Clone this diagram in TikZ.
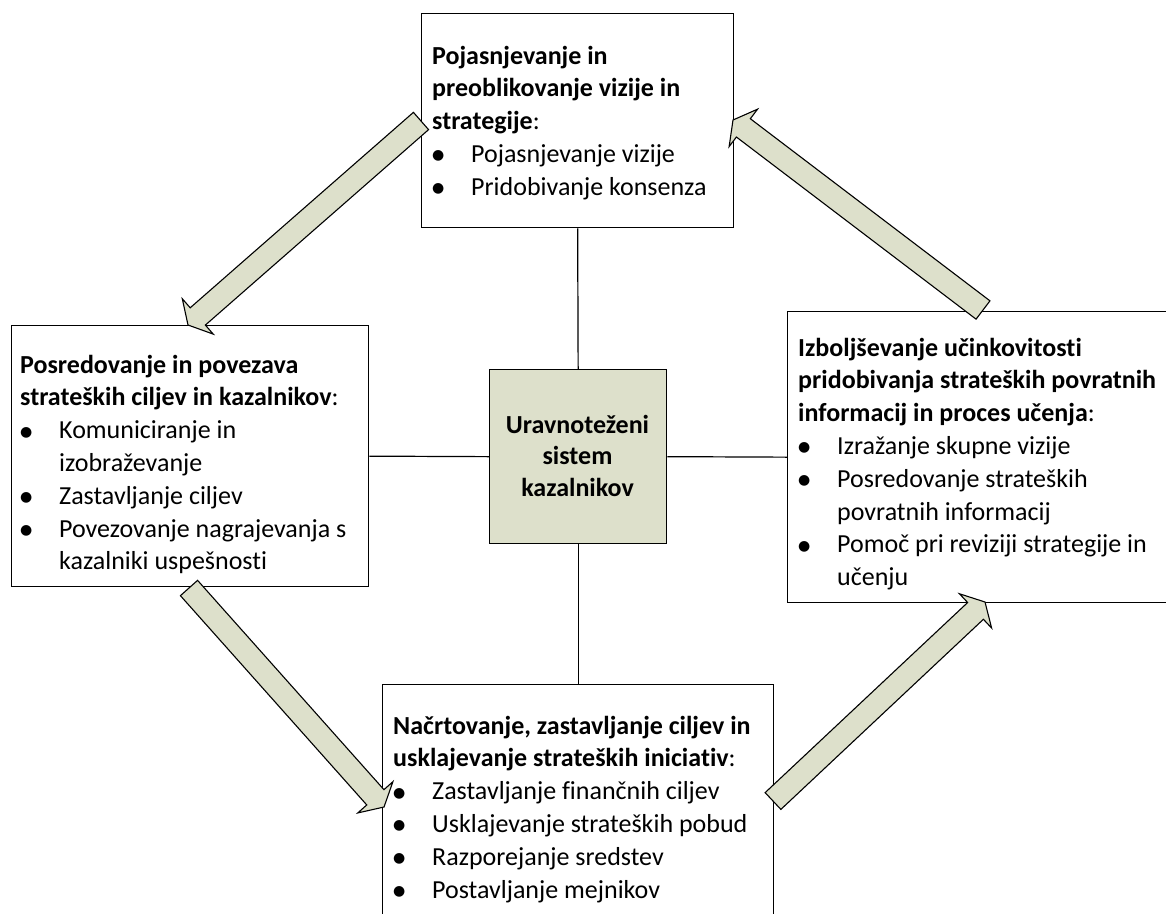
\documentclass[tikz,border=0pt]{standalone}
\usepackage{fontspec}
\setmainfont{Carlito}[Ligatures={NoCommon}]
\newfontfamily\symfont{DejaVu Sans}
\usetikzlibrary{calc}

\definecolor{sage}{HTML}{DDE0CB}

\newcommand\bulletmark{\raisebox{2.5pt}{\fontsize{14}{14}\symfont ●}}
\newcommand\itm[1]{\makebox[39pt][l]{\bulletmark}#1}
\newcommand\cont[1]{\hspace*{39pt}#1}
\newcommand\boxtext[1]{\parbox[t]{420pt}{\fontsize{26}{32.8}\selectfont\raggedright #1}}

% block arrow from tail (#1) to tip (#2)
\newcommand\blockarrow[2]{%
  \coordinate (hb) at ($(#2)!13pt!(#1)$);
  \filldraw[flowarrow]
    ($(#1)!11.5pt!90:(#2)$) -- ($(hb)!11.5pt!90:(#2)$) --
    ($(hb)!23.5pt!90:(#2)$) -- (#2) --
    ($(hb)!23.5pt!-90:(#2)$) -- ($(hb)!11.5pt!-90:(#2)$) --
    ($(#1)!11.5pt!-90:(#2)$) -- cycle;
}

\begin{document}
\begin{tikzpicture}[x=1pt,y=-1pt,
  panel/.style={draw=black, line width=1.3pt, fill=white, inner sep=0pt, anchor=north west},
  hub/.style={panel, fill=sage},
  label/.style={inner sep=0pt, anchor=base west},
  link/.style={draw=black, line width=1.2pt},
  flowarrow/.style={draw=black, line width=1.1pt, fill=sage, line join=miter}]
\useasboundingbox (0,0) rectangle (1166,913);
\clip (0,0) rectangle (1166,913);

% panels
\node[panel, minimum width=312pt, minimum height=214pt] (top) at (421,13) {};
\node[panel, minimum width=357pt, minimum height=261pt] (left) at (11,325) {};
\node[panel, minimum width=393pt, minimum height=291pt] (right) at (787,311) {};
\node[panel, minimum width=391pt, minimum height=246pt] (bottom) at (382,684) {};
\node[hub, minimum width=177pt, minimum height=174pt] (hubbox) at (489,369) {};

% spokes
\draw[link] (top.south) -- (hubbox.north);
\draw[link] (left.east) -- (hubbox.west);
\draw[link] (hubbox.east) -- (right.west);
\draw[link] (hubbox.south) -- (bottom.north);

% texts (base anchor of the hub label sits on its last line)
\node[anchor=base, inner sep=0pt, align=center, font=\fontsize{26}{31.5}\selectfont\bfseries] (hubtxt) at (577.5,496)
  {Uravnoteženi\\sistem\\kazalnikov};

\node[label] (toptxt) at (432,64) {\boxtext{%
  \textbf{Pojasnjevanje in}\\
  \textbf{preoblikovanje vizije in}\\
  \textbf{strategije}:\\
  \itm{Pojasnjevanje vizije}\\
  \itm{Pridobivanje konsenza}}};

\node[label] (lefttxt) at (20,373) {\boxtext{%
  \textbf{Posredovanje in povezava}\\
  \textbf{strateških ciljev in kazalnikov}:\\
  \itm{Komuniciranje in}\\
  \cont{izobraževanje}\\
  \itm{Zastavljanje ciljev}\\
  \itm{Povezovanje nagrajevanja s}\\
  \cont{kazalniki uspešnosti}}};

\node[label] (righttxt) at (798,356) {\boxtext{%
  \textbf{Izboljševanje učinkovitosti}\\
  \textbf{pridobivanja strateških povratnih}\\
  \textbf{informacij in proces učenja}:\\
  \itm{Izražanje skupne vizije}\\
  \itm{Posredovanje strateških}\\
  \cont{povratnih informacij}\\
  \itm{Pomoč pri reviziji strategije in}\\
  \cont{učenju}}};

\node[label] (bottomtxt) at (393,734) {\boxtext{%
  \textbf{Načrtovanje, zastavljanje ciljev in}\\
  \textbf{usklajevanje strateških iniciativ}:\\
  \itm{Zastavljanje finančnih ciljev}\\
  \itm{Usklajevanje strateških pobud}\\
  \itm{Razporejanje sredstev}\\
  \itm{Postavljanje mejnikov}}};

% flow arrows between panels
\coordinate (a1t) at (421,121);  \coordinate (a1h) at (188,325);
\coordinate (a2t) at (189,588);  \coordinate (a2h) at (384,807);
\coordinate (a3t) at (773,801);  \coordinate (a3h) at (985,602);
\coordinate (a4t) at (983,310);  \coordinate (a4h) at (733,120);
\blockarrow{a1t}{a1h}
\blockarrow{a2t}{a2h}
\blockarrow{a3t}{a3h}
\blockarrow{a4t}{a4h}
\end{tikzpicture}
\end{document}
